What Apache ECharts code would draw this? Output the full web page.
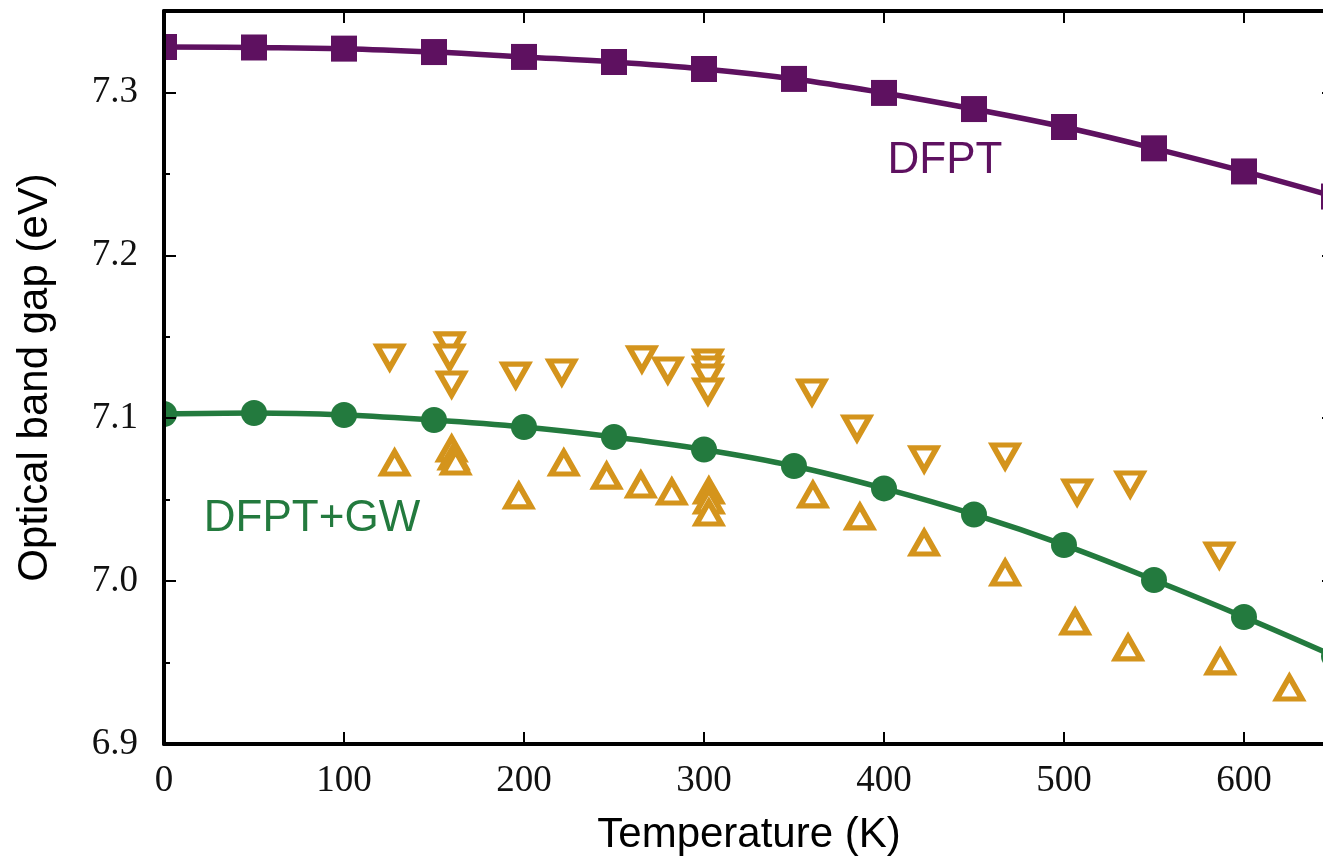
<!DOCTYPE html>
<html><head><meta charset="utf-8">
<script src="https://cdn.jsdelivr.net/npm/echarts@6/dist/echarts.min.js"></script>
<style>html,body{margin:0;padding:0;overflow:hidden;background:#fff}#c{width:1345px;height:861px}</style>
</head><body><div id="c"></div>
<script>
// Temperatures (K) of the computed points
const temperatures = [0,50,100,150,200,250,300,350,400,450,500,550,600,650];
// DFPT optical gap (eV)
const gapDFPT = [7.3279,7.3276,7.3269,7.3248,7.3218,7.3187,7.3144,7.3083,7.2997,7.2898,7.2788,7.2657,7.2515,7.2361];
// DFPT+GW optical gap (eV)
const gapDFPTGW = [7.1026,7.1032,7.1020,7.0989,7.0946,7.0885,7.0808,7.0707,7.0569,7.0409,7.0222,7.0007,6.9780,6.9540];
// Experimental points, down-pointing triangles
const expDownT = [125.4,158.7,158.7,159.8,195.4,221.0,265.5,279.9,302.2,302.2,302.2,302.2,360.0,385.0,422.3,467.3,507.3,536.8,586.3];
const expDownGap = [7.1376,7.1450,7.1376,7.1210,7.1265,7.1284,7.1364,7.1296,7.1345,7.1302,7.1253,7.1167,7.1161,7.0940,7.0750,7.0768,7.0547,7.0596,7.0160];
// Experimental points, up-pointing triangles
const expUpT = [128.1,159.8,160.9,162.0,197.1,222.1,245.9,264.9,282.1,302.7,302.7,302.7,360.5,386.6,422.3,467.3,506.2,535.6,586.8,625.2];
const expUpGap = [7.0725,7.0811,7.0762,7.0731,7.0523,7.0725,7.0645,7.0590,7.0547,7.0553,7.0492,7.0418,7.0529,7.0394,7.0234,7.0050,6.9749,6.9590,6.9504,6.9344];
// Axis ranges / texts
const xRange = [0, 650];
const yRange = [6.9, 7.35];
const xTitle = 'Temperature (K)';
const yTitle = 'Optical band gap (eV)';
const seriesLabels = ['DFPT', 'DFPT+GW'];

const PURPLE = '#5E1160', GREEN = '#237A3E', ORANGE = '#D4941C';
const zip = (a, b) => a.map((v, i) => [v, b[i]]);
const tickFont = {fontFamily: 'Liberation Serif', fontSize: 37, color: '#111'};
const lineAx = {show: true, lineStyle: {color: '#000', width: 4}};

const chart = echarts.init(document.getElementById('c'), null, {renderer: 'canvas'});
chart.setOption({
  animation: false,
  backgroundColor: '#fff',
  grid: {left: 164, right: 11, top: 11, bottom: 117, containLabel: false},
  xAxis: [
    {type: 'value', min: xRange[0], max: xRange[1], interval: 100, position: 'bottom', z: 10,
     axisLine: lineAx, splitLine: {show: false},
     axisTick: {inside: true, length: 12, lineStyle: {color: '#000', width: 2}},
     axisLabel: Object.assign({margin: 19, showMaxLabel: false}, tickFont),
     name: xTitle, nameLocation: 'middle', nameGap: 70,
     nameTextStyle: {fontFamily: 'Liberation Sans', fontSize: 42, color: '#000'}},
    {type: 'value', min: xRange[0], max: xRange[1], interval: 100, position: 'top', z: 10,
     axisLine: lineAx, splitLine: {show: false},
     axisTick: {inside: true, length: 12, lineStyle: {color: '#000', width: 2}},
     axisLabel: {show: false}}
  ],
  yAxis: [
    {type: 'value', min: yRange[0], max: yRange[1], interval: 0.1, position: 'left', z: 10,
     axisLine: lineAx, splitLine: {show: false},
     axisTick: {inside: true, length: 12, lineStyle: {color: '#000', width: 2}},
     axisLabel: Object.assign({margin: 26, showMaxLabel: false, formatter: v => v.toFixed(1)}, tickFont),
     name: yTitle, nameLocation: 'middle', nameGap: 108,
     nameTextStyle: {fontFamily: 'Liberation Sans', fontSize: 42, color: '#000'}},
    {type: 'value', min: yRange[0], max: yRange[1], interval: 0.05, position: 'left', z: 10,
     axisLine: {show: false}, splitLine: {show: false},
     axisTick: {inside: true, length: 6, lineStyle: {color: '#000', width: 2}},
     axisLabel: {show: false}},
    {type: 'value', min: yRange[0], max: yRange[1], interval: 0.1, position: 'right', z: 10,
     axisLine: lineAx, splitLine: {show: false},
     axisTick: {inside: true, length: 12, lineStyle: {color: '#000', width: 2}},
     axisLabel: {show: false}}
  ],
  graphic: [
    {type: 'rect', x: 0, y: 0, z: 5, shape: {width: 163, height: 861}, style: {fill: '#fff'}},
    {type: 'rect', x: 0, y: 0, z: 5, shape: {width: 1345, height: 10}, style: {fill: '#fff'}},
    {type: 'text', x: 945, y: 161, z: 6, style: {text: seriesLabels[0], fill: PURPLE,
      font: '44px "Liberation Sans"', align: 'center', verticalAlign: 'middle'}},
    {type: 'text', x: 312, y: 519, z: 6, style: {text: seriesLabels[1], fill: GREEN,
      font: '44px "Liberation Sans"', align: 'center', verticalAlign: 'middle'}}
  ],
  series: [
    {type: 'line', name: 'DFPT', data: zip(temperatures, gapDFPT), smooth: 0.4,
     symbol: 'rect', symbolSize: 26, showAllSymbol: true, clip: false,
     lineStyle: {color: PURPLE, width: 5.5}, itemStyle: {color: PURPLE}, z: 2},
    {type: 'line', name: 'DFPT+GW', data: zip(temperatures, gapDFPTGW), smooth: 0.4,
     symbol: 'circle', symbolSize: 26, showAllSymbol: true, clip: false,
     lineStyle: {color: GREEN, width: 5.5}, itemStyle: {color: GREEN}, z: 2},
    {type: 'scatter', name: 'Exp. down', data: zip(expDownT, expDownGap),
     symbol: 'triangle', symbolSize: [25, 22], symbolRotate: 180,
     itemStyle: {color: '#fff', borderColor: ORANGE, borderWidth: 5.5, borderJoin: 'miter', borderMiterLimit: 10, opacity: 1}, z: 3},
    {type: 'scatter', name: 'Exp. up', data: zip(expUpT, expUpGap),
     symbol: 'triangle', symbolSize: [25, 22],
     itemStyle: {color: '#fff', borderColor: ORANGE, borderWidth: 5.5, borderJoin: 'miter', borderMiterLimit: 10, opacity: 1}, z: 3}
  ]
});
</script></body></html>
